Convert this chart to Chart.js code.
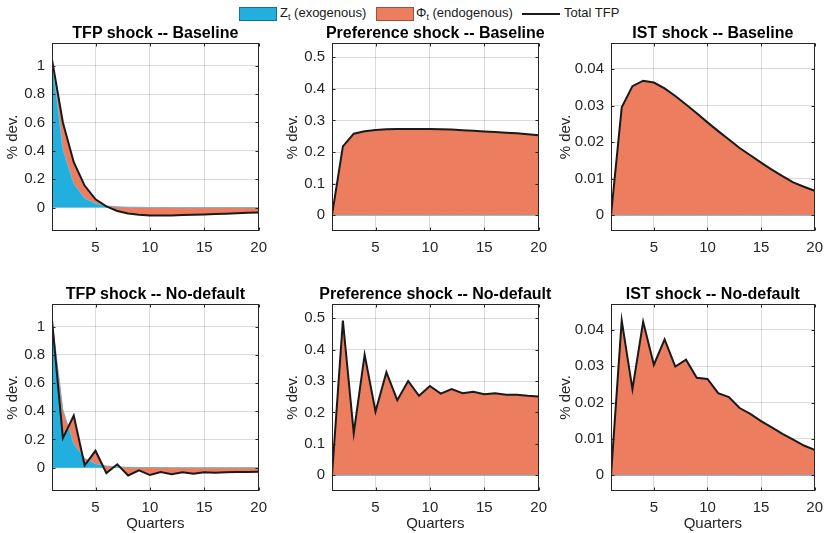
<!DOCTYPE html>
<html>
<head>
<meta charset="utf-8">
<script src="https://cdn.jsdelivr.net/npm/chart.js@4.4.0/dist/chart.umd.min.js"></script>
<style>
body{margin:0;background:#fff;width:832px;height:533px;position:relative;overflow:hidden;font-family:"Liberation Sans",Arial,sans-serif;color:#262626}
canvas{position:absolute}
.lg{position:absolute;font-size:13px;white-space:nowrap;top:5px;line-height:16px;color:#1a1a1a}
.patch{position:absolute;top:7px;width:36px;height:12px;border:1px solid rgba(0,0,0,0.35)}
.lg sub{font-size:9px;vertical-align:-3px;line-height:0}
.ttl{position:absolute;font-size:16px;font-weight:bold;line-height:18px;color:#000;white-space:nowrap;transform:translateX(-50%)}
</style>
</head>
<body>
<div class="patch" style="left:239px;background:#21b0dd"></div>
<div class="lg" style="left:280px">Z<sub>t</sub> (exogenous)</div>
<div class="patch" style="left:376px;background:#ed7d5f"></div>
<div class="lg" style="left:416px">&Phi;<sub>t</sub> (endogenous)</div>
<div style="position:absolute;left:522px;top:13px;width:38px;height:2px;background:#1a1a1a"></div>
<div class="lg" style="left:564px">Total TFP</div>

<canvas id="c1" width="275" height="239" style="left:0px;top:22px"></canvas>
<canvas id="c2" width="275" height="239" style="left:280px;top:22px"></canvas>
<canvas id="c3" width="278" height="239" style="left:553px;top:22px"></canvas>
<canvas id="c4" width="275" height="250" style="left:0px;top:283px"></canvas>
<canvas id="c5" width="275" height="250" style="left:280px;top:283px"></canvas>
<canvas id="c6" width="278" height="250" style="left:553px;top:283px"></canvas>

<script>
// impulse responses, quarters 1..20
var quarters = [1,2,3,4,5,6,7,8,9,10,11,12,13,14,15,16,17,18,19,20];
var xTicks = [5,10,15,20];
var tfpTicks = [0,0.2,0.4,0.6,0.8,1];
var prefTicks = [0,0.1,0.2,0.3,0.4,0.5];
var istTicks = [0,0.01,0.02,0.03,0.04];

// exogenous part Z_t
var tfpZ = [1.045,0.41,0.17,0.066,0.028,0.012,0.006,0.003,0.002,0.001,0.001,0,0,0,0,0,0,0,0,0];
var prefZ = [0,0,0,0,0,0,0,0,0,0,0,0,0,0,0,0,0,0,0,0];
var istZ = [0,0,0,0,0,0,0,0,0,0,0,0,0,0,0,0,0,0,0,0];

// total TFP
var tfpBase = [1.045,0.6,0.32,0.155,0.058,0.008,-0.024,-0.042,-0.051,-0.055,-0.056,-0.055,-0.053,-0.051,-0.048,-0.046,-0.043,-0.04,-0.037,-0.034];
var tfpNodef = [1.047,0.21,0.37,0.017,0.12,-0.038,0.024,-0.055,-0.019,-0.052,-0.031,-0.047,-0.033,-0.043,-0.033,-0.036,-0.033,-0.031,-0.031,-0.028];
var prefBase = [0,0.218,0.258,0.266,0.27,0.272,0.273,0.273,0.273,0.273,0.272,0.271,0.269,0.267,0.265,0.263,0.261,0.259,0.256,0.253];
var prefNodef = [0,0.492,0.134,0.384,0.203,0.328,0.239,0.3,0.253,0.284,0.26,0.274,0.261,0.266,0.258,0.261,0.256,0.256,0.253,0.251];
var istBase = [0,0.0295,0.0353,0.0368,0.0363,0.0347,0.0326,0.0303,0.0279,0.0254,0.023,0.0207,0.0184,0.0164,0.0144,0.0125,0.0107,0.009,0.0078,0.0067];
var istNodef = [0,0.0426,0.0237,0.0422,0.0304,0.0374,0.0299,0.0318,0.0268,0.0265,0.0226,0.0215,0.0185,0.0169,0.0149,0.0132,0.0114,0.0098,0.0082,0.007];

var blue = '#21b0dd';
var orange = '#ed7d5f';
var axisColor = '#262626';
var gridColor = 'rgba(0,0,0,0.14)';
var fontFamily = '"Liberation Sans", Arial, sans-serif';

// full box around plot area with small inward ticks, like matlab "box on"
var boxPlugin = {
    id: 'box',
    afterDraw: function (chart) {
        var a = chart.chartArea;
        var ctx = chart.ctx;
        var l = Math.round(a.left) + 0.5, t = Math.round(a.top) + 0.5;
        var r = Math.round(a.right) - 0.5, b = Math.round(a.bottom) - 0.5;
        ctx.save();
        ctx.strokeStyle = axisColor;
        ctx.lineWidth = 1;
        ctx.strokeRect(l, t, r - l, b - t);
        ctx.beginPath();
        chart.scales.y.ticks.forEach(function (tk) {
            var y = Math.round(chart.scales.y.getPixelForValue(tk.value)) + 0.5;
            ctx.moveTo(l, y); ctx.lineTo(l + 3, y);
            ctx.moveTo(r, y); ctx.lineTo(r - 3, y);
        });
        chart.scales.x.ticks.forEach(function (tk) {
            var x = Math.round(chart.scales.x.getPixelForValue(tk.value)) + 0.5;
            ctx.moveTo(x, b); ctx.lineTo(x, b - 3);
            ctx.moveTo(x, t); ctx.lineTo(x, t + 3);
        });
        ctx.stroke();
        ctx.restore();
    }
};

// panel title as page text, centred over the plot area (can overhang it, as in the original)
function addTitle(canvas, chart, text) {
    var a = chart.chartArea;
    var d = document.createElement('div');
    d.className = 'ttl';
    d.textContent = text;
    d.style.left = (canvas.offsetLeft + (a.left + a.right) / 2) + 'px';
    d.style.top = (canvas.offsetTop + a.top - 19) + 'px';
    document.body.appendChild(d);
}

function makePanel(id, title, z, total, yMin, yMax, yTicks, yWidth, xHeight, rightPad, showXTitle) {
    var canvas = document.getElementById(id);
    var chart = new Chart(canvas, {
        type: 'line',
        data: {
            labels: quarters,
            datasets: [{
                label: 'Total TFP',
                data: total,
                borderColor: '#1a1a1a',
                borderWidth: 2,
                pointRadius: 0,
                fill: false
            }, {
                label: 'endogenous',
                data: total,
                borderWidth: 0,
                borderColor: 'rgba(0,0,0,0)',
                backgroundColor: orange,
                pointRadius: 0,
                fill: 2
            }, {
                label: 'exogenous',
                data: z,
                borderWidth: 1,
                borderColor: 'rgba(120,178,198,0.9)',
                backgroundColor: blue,
                pointRadius: 0,
                fill: 'origin'
            }]
        },
        options: {
            responsive: false,
            animation: false,
            layout: {padding: {left: 0, right: rightPad, top: 21, bottom: 0}},
            plugins: {
                legend: {display: false},
                tooltip: {enabled: false},
                filler: {drawTime: 'beforeDatasetsDraw'}
            },
            scales: {
                x: {
                    type: 'linear',
                    min: 1,
                    max: 20,
                    z: 1,
                    afterBuildTicks: function (s) {
                        s.ticks = xTicks.map(function (v) { return {value: v}; });
                    },
                    afterFit: function (s) { s.height = xHeight; },
                    grid: {color: gridColor, drawTicks: false},
                    border: {display: false},
                    ticks: {
                        autoSkip: false,
                        maxRotation: 0,
                        padding: 8,
                        color: axisColor,
                        font: {family: fontFamily, size: 15},
                        callback: function (v) { return String(v); }
                    },
                    title: {
                        display: showXTitle,
                        text: 'Quarters',
                        color: axisColor,
                        font: {family: fontFamily, size: 15},
                        padding: {top: 0, bottom: 0}
                    }
                },
                y: {
                    type: 'linear',
                    min: yMin,
                    max: yMax,
                    z: 1,
                    afterBuildTicks: function (s) {
                        s.ticks = yTicks.map(function (v) { return {value: v}; });
                    },
                    afterFit: function (s) { s.width = yWidth; },
                    grid: {color: gridColor, drawTicks: false},
                    border: {display: false},
                    ticks: {
                        autoSkip: false,
                        padding: 7,
                        color: axisColor,
                        font: {family: fontFamily, size: 15},
                        callback: function (v) { return String(v); }
                    },
                    title: {
                        display: true,
                        text: '% dev.',
                        color: axisColor,
                        font: {family: fontFamily, size: 15},
                        padding: {top: 4, bottom: 4}
                    }
                }
            }
        },
        plugins: [boxPlugin]
    });
    addTitle(canvas, chart, title);
    return chart;
}

makePanel('c1', 'TFP shock -- Baseline', tfpZ, tfpBase, -0.165, 1.16, tfpTicks, 52, 30, 12, false);
makePanel('c2', 'Preference shock -- Baseline', prefZ, prefBase, -0.05, 0.545, prefTicks, 52, 30, 12, false);
makePanel('c3', 'IST shock -- Baseline', istZ, istBase, -0.0043, 0.0471, istTicks, 58, 30, 8, false);
makePanel('c4', 'TFP shock -- No-default', tfpZ, tfpNodef, -0.165, 1.16, tfpTicks, 52, 42, 12, true);
makePanel('c5', 'Preference shock -- No-default', prefZ, prefNodef, -0.05, 0.545, prefTicks, 52, 42, 12, true);
makePanel('c6', 'IST shock -- No-default', istZ, istNodef, -0.0043, 0.0471, istTicks, 58, 42, 8, true);
</script>
</body>
</html>
